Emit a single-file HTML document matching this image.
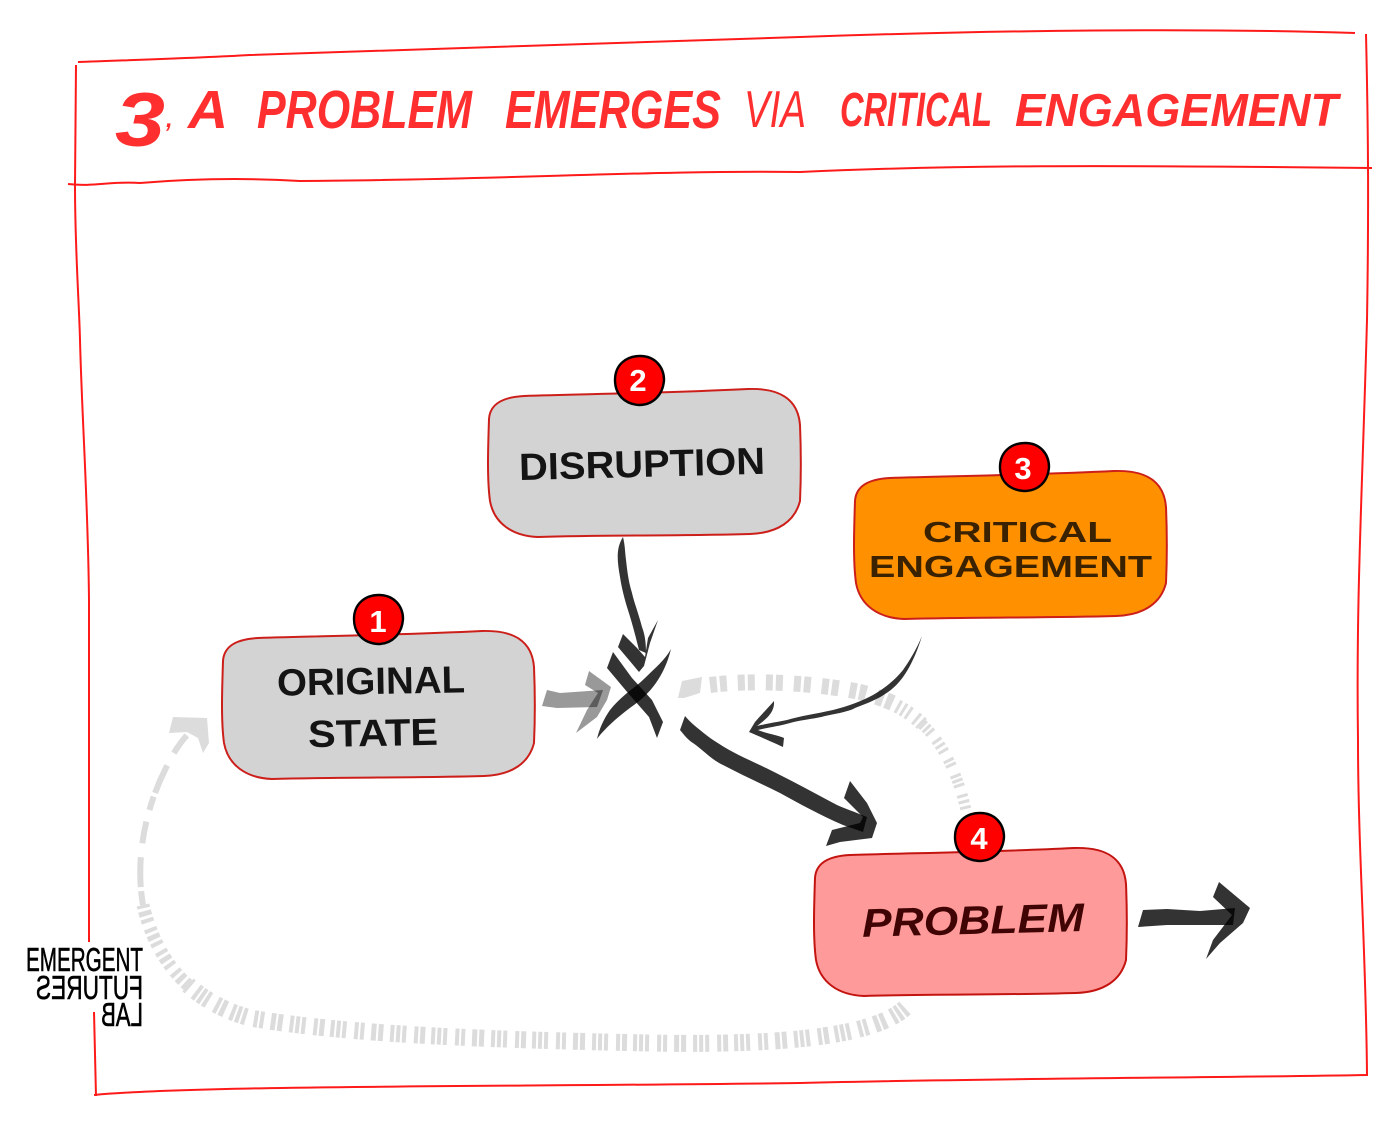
<!DOCTYPE html>
<html><head><meta charset="utf-8"><style>
html,body{margin:0;padding:0;background:#fff;width:1400px;height:1126px;overflow:hidden}
svg{display:block}
text{font-family:"Liberation Sans",sans-serif}
.t{font-style:italic;font-weight:700;fill:#ff2f2f;font-size:54px}
.n{font-style:italic;font-weight:400;fill:#ff2f2f;font-size:52px}
.l{font-weight:700;font-size:38px;fill:#141414}
.b{font-weight:700;font-size:31px;fill:#fff;text-anchor:middle}
.e{font-size:33px;fill:#000;stroke:#000;stroke-width:.6;font-family:"Liberation Sans Narrow","Liberation Sans",sans-serif}
</style></head><body>
<svg width="1400" height="1126" viewBox="0 0 1400 1126" xmlns="http://www.w3.org/2000/svg">
<defs>
<path id="box" d="M1,30 C2,14 16,8 36,7 C100,5 180,4 260,0 C292,-1 310,10 312,36 C313,60 313,90 312,112 C307,132 290,144 262,145 C190,147 120,146 50,148 C24,147 6,134 2,112 C-1,90 0,60 1,30Z"/>
</defs>
<g fill="none" stroke="#ff1a1a" stroke-width="2">
<path d="M78,62 C130,60 200,58 250,55 C400,50 600,43 800,37 C1000,30 1200,28 1355,33"/>
<path d="M68,184 C95,187 110,181 140,183 C200,178 250,178 300,181 C500,180 650,170 800,172 C950,165 1100,165 1372,168"/>
<path d="M76,65 L75,185 C75,250 79,300 80,340 C82,420 88,500 89,600 L89,942"/>
<path d="M94,1012 L96,1096"/>
<path d="M1366,34 C1368,120 1369,200 1367,320 C1362,500 1356,600 1358,740 C1358,850 1366,950 1367,1075"/>
<path d="M94,1095 C200,1085 500,1087 800,1083 C1000,1078 1200,1078 1368,1075"/>
</g>
<g>
<text class="n" x="115" y="146" textLength="50" lengthAdjust="spacingAndGlyphs" style="font-size:76px;font-weight:700">3</text>
<text class="n" x="166" y="127" style="font-size:24px;font-weight:700">,</text>
<text class="t" x="188" y="128" textLength="40" lengthAdjust="spacingAndGlyphs">A</text>
<text class="t" x="257" y="128" textLength="215" lengthAdjust="spacingAndGlyphs">PROBLEM</text>
<text class="t" x="505" y="128" textLength="216" lengthAdjust="spacingAndGlyphs">EMERGES</text>
<text class="n" x="744" y="127" textLength="62" lengthAdjust="spacingAndGlyphs">VIA</text>
<text class="n" x="840" y="126" textLength="152" lengthAdjust="spacingAndGlyphs" style="font-weight:700;font-size:48px">CRITICAL</text>
<text class="n" x="1015" y="126" textLength="323" lengthAdjust="spacingAndGlyphs" style="font-weight:700;font-size:46px">ENGAGEMENT</text>
</g>
<g fill="none" stroke="#dcdcdc">
<path stroke-width="16" stroke-dasharray="7 3 7 11" d="M710,685 C750,680 810,682 860,692 C872,695 884,699 895,704"/>
<path stroke-width="14" stroke-dasharray="3 3 3 3 3 7 3 3 3 10" d="M897,706 C908,712 916,718 922,724"/>
<path stroke-width="11" stroke-dasharray="3 2 3 2 3 8 3 3 3 3 3 8 3 2 3 9" d="M922,724 C945,745 960,780 967,815"/>
<path stroke-width="17" stroke-dasharray="4 2 4 2 4 7 5 2 5 7 4 2 4 8 4 2 4 2 4 6 5 2 4 8" d="M905,1008 C870,1040 760,1045 650,1043 C500,1040 350,1035 250,1018 C225,1011 205,1000 188,985"/>
<path stroke-width="13" stroke-dasharray="4 3 5 3 4 6" d="M188,985 C165,965 150,935 143,905"/>
<path stroke-width="6" stroke-dasharray="14 4 30 14 22 12" d="M143,905 C135,860 145,810 165,770 C172,755 180,742 190,732"/>
</g>
<polygon fill="#dcdcdc" points="173,717 207,718 209,743 203,753 198,738 187,732 169,733"/>
<polygon fill="#dcdcdc" points="682,681 702,677 700,693 684,698 678,698"/>
<g stroke-linejoin="round">
<use href="#box" transform="translate(222,631)" fill="#d3d3d3" stroke="#cc1f1a" stroke-width="2"/>
<use href="#box" transform="translate(488,389)" fill="#d3d3d3" stroke="#cc1f1a" stroke-width="2"/>
<use href="#box" transform="translate(854,471)" fill="#ff9000" stroke="#cc1f1a" stroke-width="2"/>
<use href="#box" transform="translate(814,848)" fill="#ff9a9a" stroke="#c41410" stroke-width="2"/>
</g>
<g>
<text class="l" x="277" y="694" textLength="188" lengthAdjust="spacingAndGlyphs" transform="rotate(-1 370 680)">ORIGINAL</text>
<text class="l" x="308" y="746" textLength="130" lengthAdjust="spacingAndGlyphs" transform="rotate(-1 370 730)">STATE</text>
<text class="l" x="519" y="477" textLength="246" lengthAdjust="spacingAndGlyphs" transform="rotate(-1.5 640 465)">DISRUPTION</text>
<text class="l" x="923" y="542" textLength="189" lengthAdjust="spacingAndGlyphs" style="font-size:29px;fill:#3a2200">CRITICAL</text>
<text class="l" x="869" y="577" textLength="283" lengthAdjust="spacingAndGlyphs" style="font-size:31px;fill:#3a2200">ENGAGEMENT</text>
<text class="l" x="862" y="934" textLength="222" lengthAdjust="spacingAndGlyphs" transform="rotate(-1.5 970 920)" style="fill:#400404;font-size:40px;font-style:italic">PROBLEM</text>
</g>
<g stroke="#000" stroke-width="2.4" fill="#f00">
<path d="M354,619 C354,604 365,595 379,595 C394,595 403,606 403,619 C402,634 392,644 378,644 C363,643 354,633 354,619Z"/>
<path d="M615,380 C615,365 626,356 640,356 C655,356 664,367 664,380 C663,395 653,405 639,405 C624,404 615,394 615,380Z"/>
<path d="M1000,467 C1000,452 1011,443 1025,443 C1040,443 1049,454 1049,467 C1048,482 1038,491 1024,491 C1009,490 1000,481 1000,467Z"/>
<path d="M955,837 C955,822 966,813 980,813 C995,813 1004,824 1004,837 C1003,852 993,861 979,861 C964,860 955,851 955,837Z"/>
</g>
<text class="b" x="378" y="632">1</text>
<text class="b" x="638" y="391">2</text>
<text class="b" x="1023" y="479">3</text>
<text class="b" x="979" y="849">4</text>
<g fill="#000" fill-opacity=".8">
<path d="M623,537 C616,548 617,560 620,577 C622,590 625,600 627,607 C632,622 636,638 639,650 L646,653 C646,640 644,632 642,627 C638,612 634,602 632,593 C628,580 627,568 626,560 C625,552 625,545 623,537Z"/>
<polygon points="623,634 618,647 639,672 644,666 650,643 658,620 648,638 645,657 637,648"/>
<polygon points="613,652 607,668 628,693 649,717 657,738 663,722 652,700 632,678"/>
<path d="M671,649 C665,660 655,668 645,678 C635,688 622,695 610,710 C603,720 599,730 597,739 C605,728 620,715 634,705 C648,695 664,678 671,649Z"/>
<path d="M922,636 C916,650 910,660 903,670 C895,680 885,688 873,695 C860,702 848,706 833,710 C815,714 800,716 787,720 C777,722 765,724 757,726 C765,720 775,713 774,701 C768,708 760,716 755,722 L749,732 C758,736 768,740 783,747 L784,738 C778,735 768,734 758,730 C770,727 780,726 790,723 C805,719 815,719 825,716 C840,713 850,711 855,708 C868,703 878,699 885,694 C900,685 912,668 922,636Z"/>
<path d="M685,716 L680,730 C685,736 688,740 693,743 C703,750 712,760 723,765 C742,775 760,783 780,793 C800,804 820,815 843,825 L863,832 L867,817 C855,812 846,809 837,805 C818,795 800,785 780,775 C765,767 748,760 733,752 C720,745 708,737 700,730 C695,726 690,722 685,716Z"/>
<polygon points="850,781 844,798 863,817 860,823 832,830 826,846 840,842 872,838 877,823 867,803"/>
<polygon points="1143,910 1138,927 1167,925 1233,925 1235,908 1200,911 1167,909"/>
<polygon points="1219,882 1213,897 1232,915 1213,940 1206,959 1220,943 1243,923 1250,908"/>
</g>
<g fill="#000" fill-opacity=".4">
<polygon points="547,690 542,706 557,708 597,707 603,690 560,693"/>
<polygon points="589,671 585,685 598,693 587,710 576,733 597,717 607,700 611,687"/>
</g>
<g>
<text class="e" x="26" y="971" textLength="117" lengthAdjust="spacingAndGlyphs">EMERGENT</text>
<text class="e" transform="translate(143,999) scale(-1,1)" x="0" y="0" textLength="107" lengthAdjust="spacingAndGlyphs">FUTURES</text>
<text class="e" transform="translate(143,1026) scale(-1,1)" x="0" y="0" textLength="42" lengthAdjust="spacingAndGlyphs">LAB</text>
</g>
</svg>
</body></html>
